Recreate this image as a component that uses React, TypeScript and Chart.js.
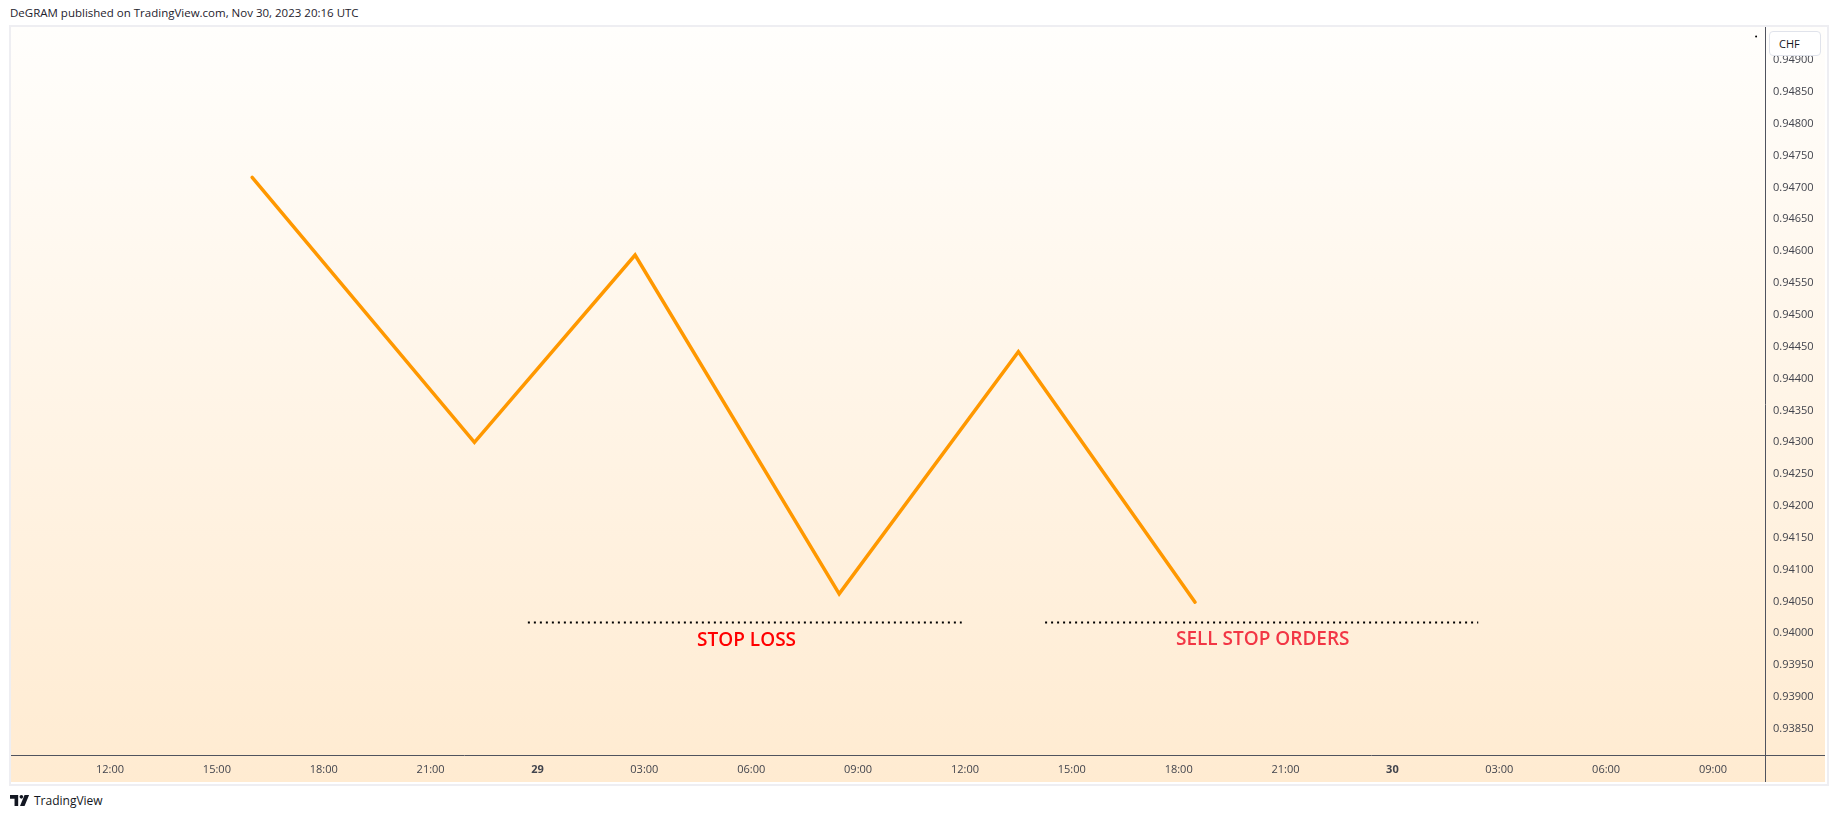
import React, { useEffect, useRef } from "react";
import { Chart, registerables } from "chart.js";

Chart.register(...registerables);

// ---- data (x in hours since Nov 28 00:00 UTC) ----
const xTickHours = [12, 15, 18, 21, 24, 27, 30, 33, 36, 39, 42, 45, 48, 51, 54, 57];
const xTickLabels = ["12:00", "15:00", "18:00", "21:00", "29", "03:00", "06:00", "09:00", "12:00", "15:00", "18:00", "21:00", "30", "03:00", "06:00", "09:00"];
const boldTickLabels = ["29", "30"];
const yTickValues = [0.9385, 0.939, 0.9395, 0.94, 0.9405, 0.941, 0.9415, 0.942, 0.9425, 0.943, 0.9435, 0.944, 0.9445, 0.945, 0.9455, 0.946, 0.9465, 0.947, 0.9475, 0.948, 0.9485, 0.949];

const priceHours = [15.99, 22.23, 26.74, 32.47, 37.5, 42.46];
const priceValues = [0.94716, 0.943, 0.94594, 0.94062, 0.94442, 0.94049];

const stopLossHours = [23.73, 35.91];
const stopLossLevel = 0.94017;
const sellStopHours = [38.25, 50.41];
const sellStopLevel = 0.94017;

const markerHours = [58.21];
const markerValues = [0.94937];

const noteTexts = ["STOP LOSS", "SELL STOP ORDERS"];
const noteHours = [29.87, 44.36];
const noteValues = [0.93988, 0.9399];
const noteColors = ["#ff0000", "#f23645"];

const xMin = 9.22;
const xMax = 58.46;
const yMin = 0.93809;
const yMax = 0.94952;

const bgPlugin = {
  id: "bgPlugin",
  beforeDraw(chart: any) {
    const { ctx, width, height } = chart;
    const g = ctx.createLinearGradient(0, 0, 0, height);
    g.addColorStop(0, "#fffefc");
    g.addColorStop(1, "#ffebd1");
    ctx.save();
    ctx.fillStyle = g;
    ctx.fillRect(0, 0, width, height);
    ctx.restore();
  },
  afterDraw(chart: any) {
    const { ctx, width, height, chartArea } = chart;
    ctx.save();
    ctx.strokeStyle = "#50535e";
    ctx.lineWidth = 1;
    ctx.beginPath();
    const x = Math.round(chartArea.right) + 0.5;
    ctx.moveTo(x, 0);
    ctx.lineTo(x, height);
    const y = Math.round(chartArea.bottom) + 0.5;
    ctx.moveTo(0, y);
    ctx.lineTo(width, y);
    ctx.stroke();
    // notes
    const xs = chart.scales.x;
    const ys = chart.scales.y;
    ctx.font = "600 19px 'Open Sans'";
    ctx.textAlign = "center";
    ctx.textBaseline = "middle";
    noteTexts.forEach((t, i) => {
      ctx.fillStyle = noteColors[i];
      ctx.fillText(t, xs.getPixelForValue(noteHours[i]), ys.getPixelForValue(noteValues[i]));
    });
    ctx.restore();
  },
};

export default function App() {
  const ref = useRef<HTMLCanvasElement | null>(null);
  useEffect(() => {
    if (!ref.current) return;
    const chart = new Chart(ref.current, {
      type: "line",
      data: {
        datasets: [
          {
            data: priceHours.map((h, i) => ({ x: h, y: priceValues[i] })),
            borderColor: "#ff9800",
            borderWidth: 3.5,
            pointRadius: 0,
            tension: 0,
            borderCapStyle: "round",
            borderJoinStyle: "miter",
          } as any,
          {
            data: stopLossHours.map((h) => ({ x: h, y: stopLossLevel })),
            borderColor: "#000000",
            borderWidth: 2,
            borderDash: [2, 4],
            pointRadius: 0,
          },
          {
            data: sellStopHours.map((h) => ({ x: h, y: sellStopLevel })),
            borderColor: "#000000",
            borderWidth: 2,
            borderDash: [2, 4],
            pointRadius: 0,
          },
          {
            data: markerHours.map((h, i) => ({ x: h, y: markerValues[i] })),
            showLine: false,
            pointRadius: 1,
            pointBackgroundColor: "#000000",
            pointBorderWidth: 0,
          },
        ],
      },
      options: {
        animation: false,
        responsive: false,
        maintainAspectRatio: false,
        layout: { padding: 0, autoPadding: false },
        plugins: { legend: { display: false }, tooltip: { enabled: false } },
        events: [],
        scales: {
          x: {
            type: "linear",
            position: "bottom",
            min: xMin,
            max: xMax,
            grid: { display: false, drawTicks: false },
            border: { display: false },
            afterBuildTicks(scale: any) {
              scale.ticks = xTickHours.map((v) => ({ value: v }));
            },
            afterFit(scale: any) {
              scale.height = 27;
              scale.paddingLeft = 0;
              scale.paddingRight = 0;
            },
            ticks: {
              autoSkip: false,
              maxRotation: 0,
              padding: 8,
              color: "#42444d",
              font: (ctx: any) => {
                const lbl = xTickLabels[ctx.index];
                return { family: "'Open Sans'", size: 11, weight: boldTickLabels.includes(lbl) ? "bold" : "normal" };
              },
              callback: (_v: any, i: number) => xTickLabels[i],
            },
          },
          y: {
            type: "linear",
            position: "right",
            min: yMin,
            max: yMax,
            grid: { display: false, drawTicks: false },
            border: { display: false },
            afterBuildTicks(scale: any) {
              scale.ticks = yTickValues.map((v) => ({ value: v }));
            },
            afterFit(scale: any) {
              scale.width = 60;
              scale.paddingTop = 0;
              scale.paddingBottom = 0;
            },
            ticks: {
              padding: 8,
              color: "#42444d",
              font: { family: "'Open Sans'", size: 11 },
              callback: (v: any) => Number(v).toFixed(5),
            },
          },
        },
      },
      plugins: [bgPlugin],
    });
    return () => chart.destroy();
  }, []);

  return (
    <div style={{ position: "absolute", left: 0, top: 0, width: 1835, height: 818, background: "#ffffff", overflow: "hidden", fontFamily: "'Open Sans', sans-serif" }}>
      <div style={{ position: "absolute", left: 10, top: 5, fontSize: 11.5, color: "#1e222d", whiteSpace: "nowrap" }}>
        DeGRAM published on TradingView.com, Nov 30, 2023 20:16 UTC
      </div>
      <div style={{ position: "absolute", left: 9, top: 25, width: 1816, height: 757, border: "2px solid #eeeef2", boxSizing: "content-box" }} />
      <canvas ref={ref} width={1814} height={755} style={{ position: "absolute", left: 11, top: 27, width: 1814, height: 755 }} />
      <div style={{ position: "absolute", left: 1769, top: 31, width: 52, height: 25, border: "1px solid #e0e3eb", borderRadius: 4, background: "#ffffff", fontSize: 11, color: "#131722", lineHeight: "23px", paddingLeft: 9, boxSizing: "border-box" }}>
        CHF
      </div>
      <div style={{ position: "absolute", left: 10, top: 792, display: "flex", alignItems: "center", gap: 4 }}>
        <svg width="20" height="11" viewBox="0 0 22 12">
          <path d="M0 0 H9 V12 H5 V4 H0 Z" fill="#131722" />
          <circle cx="12.5" cy="2" r="2" fill="#131722" />
          <path d="M16 0 H21 L16 12 H11 Z" fill="#131722" />
        </svg>
        <span style={{ fontSize: 12, color: "#131722" }}>TradingView</span>
      </div>
    </div>
  );
}
